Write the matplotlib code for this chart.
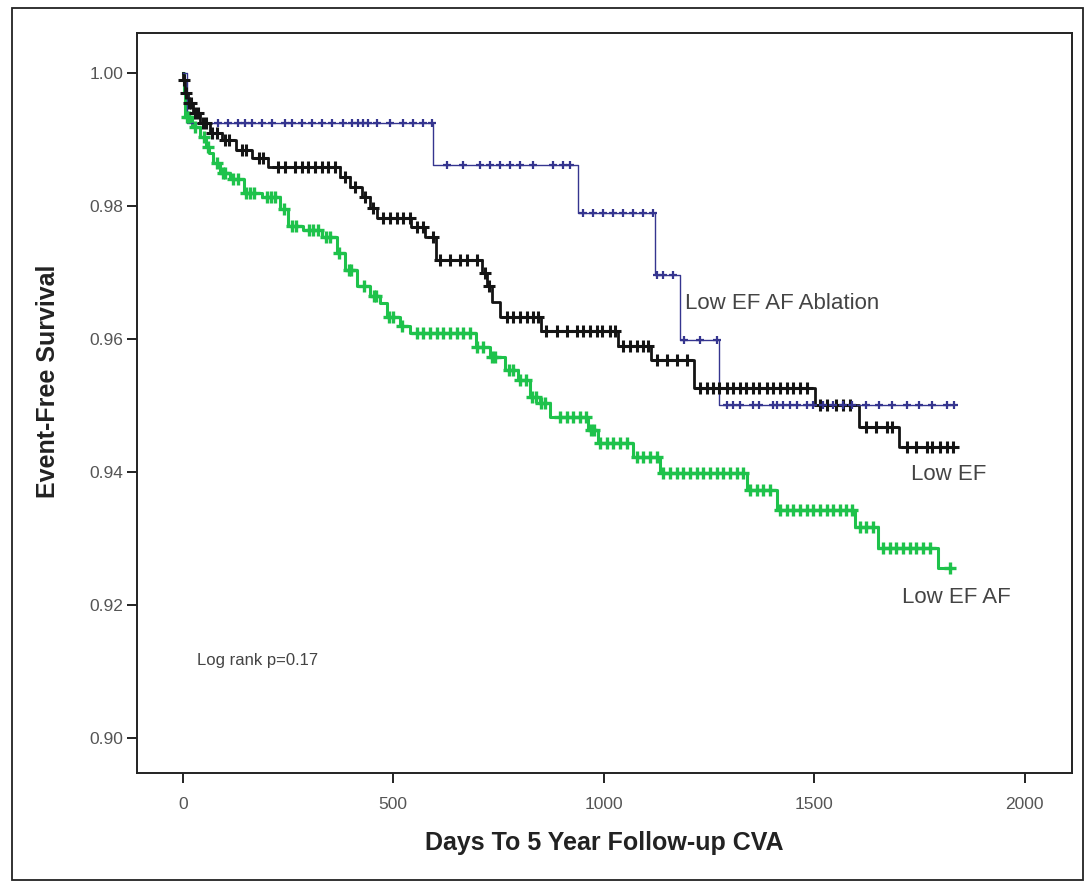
import numpy as np
import matplotlib
matplotlib.use("Agg")
import matplotlib.pyplot as plt
from matplotlib.patches import Rectangle

plt.rcParams['font.family'] = ['Liberation Sans', 'DejaVu Sans']

# Kaplan-Meier steps: event day and survival after the event
abl_days = [0, 10, 594, 940, 1121, 1180, 1275]
abl_surv = [1.0, 0.9925, 0.9862, 0.979, 0.9696, 0.9598, 0.950]
abl_end = 1833
abl_cens = [83, 107, 131, 147, 164, 188, 211, 242, 259, 283, 306, 330, 354, 380,
            401, 416, 428, 439, 461, 492, 523, 546, 570, 591,
            627, 665, 705, 729, 753, 777, 800, 831, 879, 903, 919,
            950, 974, 998, 1021, 1045, 1069, 1093, 1116,
            1126, 1140, 1164, 1190, 1228, 1268,
            1292, 1306, 1323, 1354, 1370, 1401, 1411, 1425, 1442, 1458, 1482,
            1496, 1520, 1544, 1568, 1591, 1624, 1655, 1686, 1720, 1750, 1781,
            1815, 1833]

lowef_days = [0, 1, 5, 12, 24, 40, 64, 93, 126, 164, 202, 373, 397, 425, 444,
              461, 541, 575, 601, 710, 722, 734, 753, 850, 1033, 1112, 1214,
              1501, 1606, 1701]
lowef_surv = [1.0, 0.999, 0.997, 0.9955, 0.994, 0.9925, 0.991, 0.990, 0.9885,
              0.9872, 0.9859, 0.9844, 0.9829, 0.9814, 0.9797, 0.9782, 0.9768,
              0.9753, 0.9719, 0.970, 0.968, 0.9655, 0.9633, 0.9612, 0.959,
              0.9568, 0.9527, 0.950, 0.9468, 0.9438]
lowef_end = 1833
lowef_cens = [3, 8, 15, 20, 30, 35, 48, 55, 70, 80, 100, 110, 140, 150, 180, 190,
              226, 242, 266, 283, 297, 314, 330, 344, 361, 385, 410, 433, 452,
              475, 492, 508, 523, 539, 556, 570, 594,
              610, 634, 658, 675, 698, 717, 728,
              770, 784, 800, 817, 831, 843,
              864, 888, 912, 936, 950, 967, 983, 997, 1014, 1026,
              1045, 1062, 1078, 1093, 1104, 1126, 1150, 1173, 1197,
              1228, 1245, 1259, 1275, 1292, 1306, 1323, 1339, 1354, 1370, 1387,
              1401, 1418, 1435, 1449, 1466, 1482, 1513, 1530, 1553, 1568, 1584,
              1624, 1648, 1672, 1686, 1720, 1743, 1767, 1781, 1798, 1815, 1829]

lowefaf_days = [0, 2, 5, 21, 40, 55, 62, 71, 88, 112, 145, 188, 230, 249, 285,
                330, 366, 385, 413, 444, 468, 484, 515, 539, 696, 729, 765, 796,
                824, 848, 872, 962, 986, 1069, 1133, 1340, 1411, 1596, 1651, 1793]
lowefaf_surv = [1.0, 0.997, 0.9934, 0.9919, 0.9904, 0.9889, 0.988, 0.9865,
                0.985, 0.984, 0.982, 0.9814, 0.9795, 0.977, 0.9764, 0.9753,
                0.973, 0.9704, 0.968, 0.9665, 0.9654, 0.9633, 0.962, 0.9609,
                0.9588, 0.9573, 0.9553, 0.9538, 0.9513, 0.9504, 0.9483, 0.9463,
                0.9444, 0.9423, 0.9398, 0.9373, 0.9343, 0.9317, 0.9286, 0.9256]
lowefaf_end = 1822
lowefaf_cens = [10, 15, 30, 50, 60, 80, 95, 100, 120, 130, 150, 160, 170, 200,
                210, 220, 240, 260, 270, 300, 310, 320, 340, 350, 370, 395, 400,
                430, 455, 460, 490, 500, 520, 556, 570, 587, 603, 618, 634, 651,
                665, 682, 700, 712, 735, 741, 775, 785, 800, 815, 830, 840, 852,
                860, 895, 912, 926, 943, 959, 970, 978, 990, 1007, 1021, 1038,
                1055, 1078, 1093, 1109, 1126, 1140, 1157, 1173, 1188, 1204, 1221,
                1235, 1252, 1268, 1283, 1299, 1316, 1330, 1347, 1363, 1378, 1394,
                1418, 1435, 1449, 1466, 1482, 1497, 1513, 1530, 1544, 1561, 1575,
                1591, 1608, 1624, 1639, 1663, 1679, 1694, 1710, 1727, 1741, 1758,
                1774, 1822]

x_ticks = [0, 500, 1000, 1500, 2000]
y_ticks = [0.90, 0.92, 0.94, 0.96, 0.98, 1.00]


def km_curve(ax, days, surv, end, cens, color, lw, ms, mew):
    t = np.array(days + [end], dtype=float)
    s = np.array(surv + [surv[-1]], dtype=float)
    ax.step(t, s, where='post', color=color, lw=lw, zorder=3)
    c = np.array(cens, dtype=float)
    idx = np.searchsorted(np.array(days, dtype=float), c, side='right') - 1
    cs = np.array(surv)[idx]
    ax.plot(c, cs, linestyle='none', marker='+', color=color,
            ms=ms, mew=mew, zorder=4)


fig = plt.figure(figsize=(10.87, 8.86), dpi=100)
fig.patches.append(Rectangle((0.011, 0.007), 0.985, 0.984, transform=fig.transFigure,
                             fill=False, edgecolor='#222222', lw=1.3))

ax = fig.add_axes([0.126, 0.1275, 0.860, 0.835])

km_curve(ax, lowefaf_days, lowefaf_surv, lowefaf_end, lowefaf_cens,
         '#1ec24b', 2.2, 8, 2.4)
km_curve(ax, lowef_days, lowef_surv, lowef_end, lowef_cens,
         '#141414', 2.0, 8, 2.2)
km_curve(ax, abl_days, abl_surv, abl_end, abl_cens,
         '#35358f', 1.0, 6, 1.6)

ax.set_xlim(-109, 2112)
ax.set_ylim(0.8947, 1.006)
ax.set_xticks(x_ticks)
ax.set_xticklabels([str(v) for v in x_ticks])
ax.set_yticks(y_ticks)
ax.set_yticklabels([f"{v:.2f}" for v in y_ticks])
ax.tick_params(axis='both', direction='out', length=7, width=1.4,
               labelsize=12.5, labelcolor='#555555', color='#222222')
ax.tick_params(axis='x', pad=10)
ax.tick_params(axis='y', pad=3)
for sp in ax.spines.values():
    sp.set_linewidth(1.4)
    sp.set_color('#222222')

ax.set_xlabel('Days To 5 Year Follow-up CVA', fontsize=18, fontweight='bold',
              color='#222222', va='center')
ax.xaxis.set_label_coords(0.5, -0.0946)
ax.set_ylabel('Event-Free Survival', fontsize=18, fontweight='bold',
              color='#222222', va='center')
ax.yaxis.set_label_coords(-0.095, 0.53)

ax.text(1192, 0.9654, 'Low EF AF Ablation', fontsize=16, color='#444444',
        va='center', ha='left')
ax.text(1731, 0.9396, 'Low EF', fontsize=16, color='#444444',
        va='center', ha='left')
ax.text(1708, 0.9211, 'Low EF AF', fontsize=16, color='#444444',
        va='center', ha='left')
ax.text(33, 0.9117, 'Log rank p=0.17', fontsize=12, color='#444444',
        va='center', ha='left')

fig.savefig('out.png', dpi=100)
